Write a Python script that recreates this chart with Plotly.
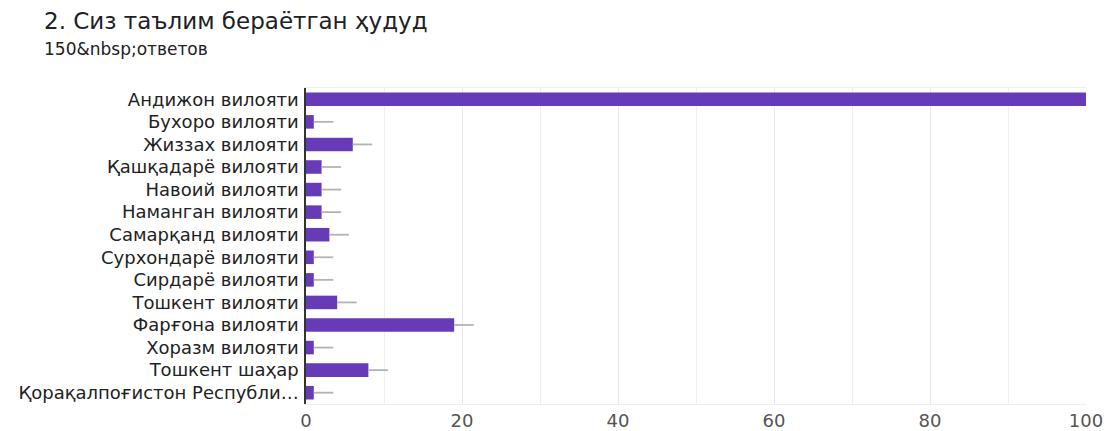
import plotly.graph_objects as go

# Survey: region where the respondent teaches
title_text = "2. Сиз таълим бераётган ҳудуд"
subtitle_text = "150&amp;nbsp;ответов"

regions = [
    "Андижон вилояти",
    "Бухоро вилояти",
    "Жиззах вилояти",
    "Қашқадарё вилояти",
    "Навоий вилояти",
    "Наманган вилояти",
    "Самарқанд вилояти",
    "Сурхондарё вилояти",
    "Сирдарё вилояти",
    "Тошкент вилояти",
    "Фарғона вилояти",
    "Хоразм вилояти",
    "Тошкент шаҳар",
    "Қорақалпоғистон Республи…",
]
counts = [100, 1, 6, 2, 2, 2, 3, 1, 1, 4, 19, 1, 8, 1]
x_ticks = [0, 20, 40, 60, 80, 100]

BAR_COLOR = "#673ab7"
FONT = "DejaVu Sans"

ML, MR, MT, MB = 306, 19, 88, 27
W, H = 1105, 431

fig = go.Figure(
    go.Bar(
        x=counts,
        y=regions,
        orientation="h",
        marker=dict(color=BAR_COLOR, line=dict(width=0)),
        error_x=dict(
            type="constant",
            value=2.5,
            symmetric=False,
            valueminus=0,
            color="#b3b3b3",
            thickness=1.8,
            width=0,
        ),
        hoverinfo="x+y",
    )
)

fig.update_layout(
    width=W,
    height=H,
    margin=dict(l=ML, r=MR, t=MT, b=MB, autoexpand=False),
    paper_bgcolor="white",
    plot_bgcolor="white",
    bargap=0.4,
    showlegend=False,
    font=dict(family=FONT, color="#222222"),
    xaxis=dict(
        range=[0, 100],
        tickvals=x_ticks,
        ticktext=[str(v) for v in x_ticks],
        showgrid=True,
        gridcolor="#e8e8e8",
        gridwidth=1,
        minor=dict(dtick=10, showgrid=True, gridcolor="#eeeeee", gridwidth=1),
        zeroline=False,
        showline=True,
        linecolor="#eeeeee",
        mirror=True,
        tickfont=dict(size=18, color="#555555", family=FONT),
        ticks="",
        automargin=False,
        fixedrange=True,
    ),
    yaxis=dict(
        autorange="reversed",
        showline=True,
        linecolor="#333333",
        linewidth=1.5,
        showgrid=False,
        ticks="",
        tickfont=dict(size=18, color="#222222", family=FONT),
        ticklabelstandoff=2,
        automargin=False,
        fixedrange=True,
    ),
)

# heading lines, positioned in pixels relative to the plot area
plot_h = H - MT - MB
plot_w = W - ML - MR
def px_to_paper_x(px):
    return (px - ML) / plot_w
def px_to_paper_y(py):
    return (H - MB - py) / plot_h

fig.add_annotation(
    text=title_text,
    xref="paper", yref="paper",
    x=px_to_paper_x(42), y=px_to_paper_y(21),
    xanchor="left", yanchor="middle",
    showarrow=False,
    font=dict(size=23, color="#202124", family=FONT),
)
fig.add_annotation(
    text=subtitle_text,
    xref="paper", yref="paper",
    x=px_to_paper_x(42), y=px_to_paper_y(49),
    xanchor="left", yanchor="middle",
    showarrow=False,
    font=dict(size=17, color="#202124", family=FONT),
)

fig.write_html("out.html")
